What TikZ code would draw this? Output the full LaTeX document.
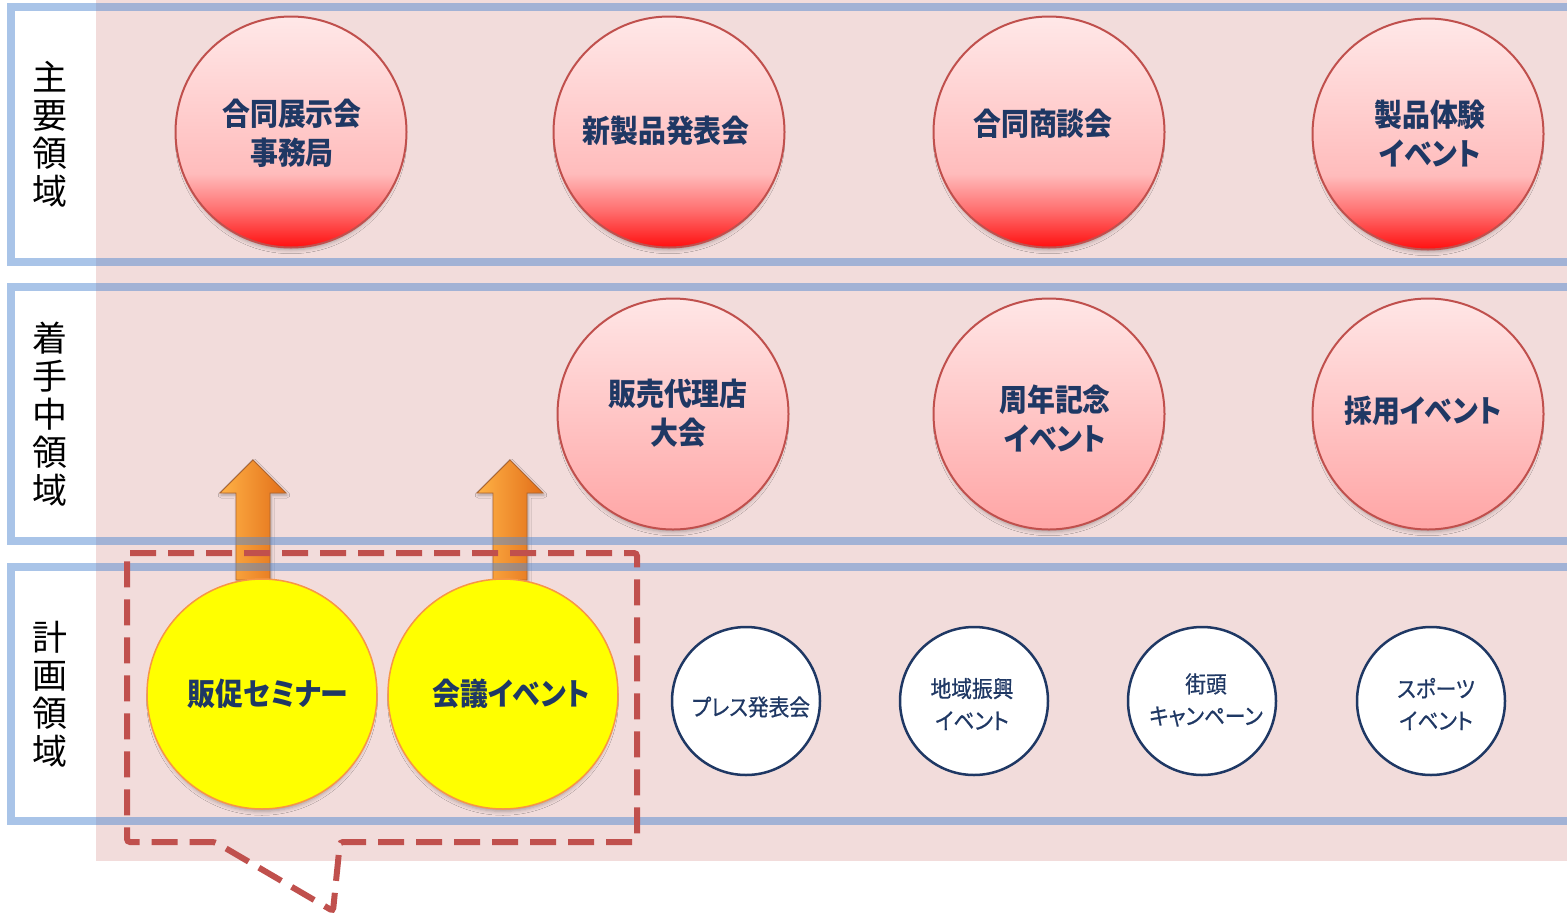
\documentclass[tikz,border=0pt]{standalone}
\usepackage{fontspec}
\newfontfamily\jp{Noto Sans CJK JP}
\newfontfamily\jpc[FakeStretch=0.9,RawFeature=+palt]{Noto Sans CJK JP}
\newfontfamily\jpm[FakeStretch=0.9,FakeBold=0.6,RawFeature=+palt]{Noto Sans CJK JP}
\usetikzlibrary{shadows.blur}
\definecolor{pinkbg}{RGB}{242,220,219}
\definecolor{frameblue}{RGB}{83,137,209}
\definecolor{navy}{RGB}{31,56,100}
\definecolor{redborder}{RGB}{192,80,77}
\definecolor{yelborder}{RGB}{247,150,70}
\definecolor{yelfill}{RGB}{255,255,0}
\definecolor{rbzero}{RGB}{255,15,15}
\definecolor{rbone}{RGB}{255,110,110}
\definecolor{rbtwo}{RGB}{255,188,188}
\definecolor{rbthree}{RGB}{255,232,232}
\definecolor{pktop}{RGB}{255,230,230}
\definecolor{pkbot}{RGB}{255,165,165}
\definecolor{arrlight}{RGB}{255,178,70}
\definecolor{arrdark}{RGB}{226,110,25}
\definecolor{arredge}{RGB}{175,100,45}
\pgfdeclareverticalshading{redball}{100bp}{color(0bp)=(rbzero); color(25bp)=(rbzero); color(33bp)=(rbone); color(41bp)=(rbtwo); color(75bp)=(rbthree); color(100bp)=(rbthree)}
\tikzset{
  softshadow/.style={blur shadow={shadow xshift=0pt, shadow yshift=-6pt, shadow scale=0.97, shadow blur radius=4pt, shadow opacity=30}},
  redc/.style={circle, draw=redborder, line width=2pt, minimum size=231pt, inner sep=0pt, shading=redball, softshadow},
  pinkc/.style={circle, draw=redborder, line width=2pt, minimum size=231pt, inner sep=0pt, top color=pktop, bottom color=pkbot, softshadow},
  yelc/.style={circle, draw=yelborder, line width=1.5pt, minimum size=230pt, inner sep=0pt, fill=yelfill, softshadow},
  whitec/.style={circle, draw=navy, line width=2.5pt, minimum size=148pt, inner sep=0pt, fill=white},
  ctext/.style={font=\jpc\bfseries\fontsize{31}{39}\selectfont, text=navy, align=center, inner sep=0pt},
  wtext/.style={font=\jpm\fontsize{23}{32}\selectfont, text=navy, align=center, inner sep=0pt},
  ltext/.style={font=\jp\fontsize{35}{38}\selectfont, text=black, align=center, inner sep=0pt},
  band/.style={draw=frameblue, draw opacity=0.5, line width=8pt},
  uparrow/.style={left color=arrlight, right color=arrdark, draw=arredge, line width=0.8pt, blur shadow={shadow xshift=1pt, shadow yshift=-2pt, shadow blur radius=3pt, shadow opacity=30}},
  callout/.style={draw=redborder, line width=6pt, dash pattern=on 26pt off 12pt, rounded corners=3pt}
}
\begin{document}
\begin{tikzpicture}[x=1pt,y=-1pt]
\useasboundingbox (0,0) rectangle (1567,919);
\clip (0,0) rectangle (1567,919);
% background
\fill[pinkbg] (96,0) rectangle (1600,861);
% arrows
\shade[uparrow] (236,580) -- (236,493) -- (220,493) -- (253,460) -- (286,493) -- (270,493) -- (270,580) -- cycle;
\shade[uparrow] (493,580) -- (493,493) -- (477,493) -- (510,460) -- (543,493) -- (527,493) -- (527,580) -- cycle;
% bands
\draw[band] (11,7) rectangle (1620,262);
\draw[band] (11,287) rectangle (1620,541);
\draw[band] (11,567) rectangle (1620,821);
% band labels
\node[ltext] (l1) at (50,134) {主\\要\\領\\域};
\node[ltext] (l2) at (50,414) {着\\手\\中\\領\\域};
\node[ltext] (l3) at (50,694) {計\\画\\領\\域};
% row 1
\node[redc] (c1) at (291,132) {};
\node[redc] (c2) at (669,132) {};
\node[redc] (c3) at (1049,132) {};
\node[redc] (c4) at (1428,134) {};
\node[ctext] (t1) at (292,133) {合同展示会\\事務局};
\node[ctext] (t2) at (666,131) {新製品発表会};
\node[ctext] (t3) at (1043,124) {合同商談会};
\node[ctext] (t4) at (1430,134) {製品体験\\イベント};
% row 2
\node[pinkc] (c5) at (673,414) {};
\node[pinkc] (c6) at (1049,414) {};
\node[pinkc] (c7) at (1428,414) {};
\node[ctext] (t5) at (678,413) {販売代理店\\大会};
\node[ctext] (t6) at (1055,418) {周年記念\\イベント};
\node[ctext] (t7) at (1423,411) {採用イベント};
% row 3
\node[yelc] (y1) at (262,694) {};
\node[yelc] (y2) at (503,694) {};
\node[ctext] (ty1) at (268,694) {販促セミナー};
\node[ctext] (ty2) at (511,694) {会議イベント};
\node[whitec] (w1) at (746,701) {};
\node[whitec] (w2) at (974,701) {};
\node[whitec] (w3) at (1202,701) {};
\node[whitec] (w4) at (1431,701) {};
\node[wtext] (tw1) at (751,707) {プレス発表会};
\node[wtext] (tw2) at (972,704) {地域振興\\イベント};
\node[wtext] (tw3) at (1206,700) {街頭\\キャンペーン};
\node[wtext] (tw4) at (1436,704) {スポーツ\\イベント};
% callout
\draw[callout] (127,553) -- (637,553) -- (637,842) -- (340,842) -- (333,911) -- (215,842) -- (127,842) -- cycle;
\end{tikzpicture}
\end{document}
